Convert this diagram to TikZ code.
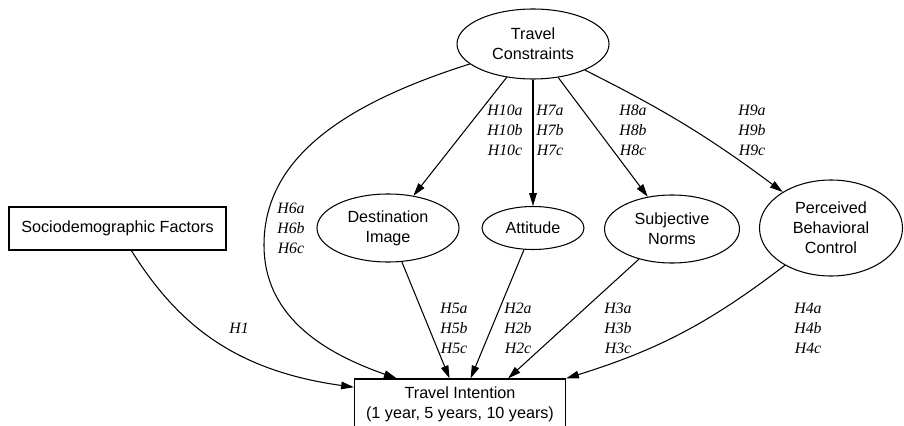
\documentclass[tikz,border=0pt]{standalone}
\usepackage{fontspec}
\setmainfont{Liberation Sans}
\newfontfamily\hypfont{Liberation Serif}
\usetikzlibrary{shapes.geometric,arrows.meta}

\begin{document}
\begin{tikzpicture}[x=0.03cm,y=-0.03cm,line width=0.9pt,
  >={Triangle[length=11pt,width=6.5pt]},
  latent/.style={draw,ellipse,inner sep=0pt,align=center,font=\fontsize{13.8}{17}\selectfont},
  observed/.style={draw,rectangle,inner sep=0pt,align=center,font=\fontsize{13.8}{17}\selectfont},
  hyp/.style={align=center,font=\hypfont\itshape\fontsize{13.5}{17}\selectfont}]
 \useasboundingbox (0,0) rectangle (904,426); %描画範囲
 \node[latent,minimum width=4.56cm,minimum height=2.1cm] (tc) at (533,44) {Travel\\Constraints}; %制約
 \node[latent,minimum width=4.26cm,minimum height=2.04cm] (di) at (388,228) {Destination\\Image}; %目的地イメージ
 \node[latent,minimum width=3.06cm,minimum height=1.29cm] (att) at (533,228) {Attitude}; %態度
 \node[latent,minimum width=4.05cm,minimum height=2.04cm] (sn) at (672,229) {Subjective\\Norms}; %主観的規範
 \node[latent,minimum width=4.29cm,minimum height=2.88cm] (pbc) at (831,228) {Perceived\\Behavioral\\Control}; %知覚行動制御
 \node[observed,minimum width=6.51cm,minimum height=1.29cm] (sf) at (117.5,228.5) {Sociodemographic Factors}; %属性
 \node[observed,minimum width=6.33cm,minimum height=1.5cm] (ti) at (460,404) {Travel Intention\\(1 year, 5 years, 10 years)}; %旅行意図
 \draw[->] (tc)--(di); %H10
 \draw[->] (tc)--(att); %H7
 \draw[->] (tc)--(sn); %H8
 \draw[->] (tc) to[bend left=5] (pbc); %H9
 \draw[->] (tc) .. controls (340,105) and (264,160) .. (264,245) .. controls (264,320) and (330,355) .. (ti.158); %H6
 \draw[->] (sf) .. controls (175,320) and (230,370) .. (ti.171); %H1
 \draw[->] (di)--(ti); %H5
 \draw[->] (att)--(ti); %H2
 \draw[->] (sn)--(ti.28); %H3
 \draw[->] (pbc.219) to[bend left=10] (ti.north east); %H4
 \node[hyp] (h10) at (505,130) {H10a\\H10b\\H10c};
 \node[hyp] (h7) at (550,130) {H7a\\H7b\\H7c};
 \node[hyp] (h8) at (633,130) {H8a\\H8b\\H8c};
 \node[hyp] (h9) at (752,130) {H9a\\H9b\\H9c};
 \node[hyp] (h6) at (291,228) {H6a\\H6b\\H6c};
 \node[hyp] (h1) at (239,328) {H1};
 \node[hyp] (h5) at (454,328) {H5a\\H5b\\H5c};
 \node[hyp] (h2) at (518,328) {H2a\\H2b\\H2c};
 \node[hyp] (h3) at (618,328) {H3a\\H3b\\H3c};
 \node[hyp] (h4) at (808,328) {H4a\\H4b\\H4c};
\end{tikzpicture}
\end{document}
